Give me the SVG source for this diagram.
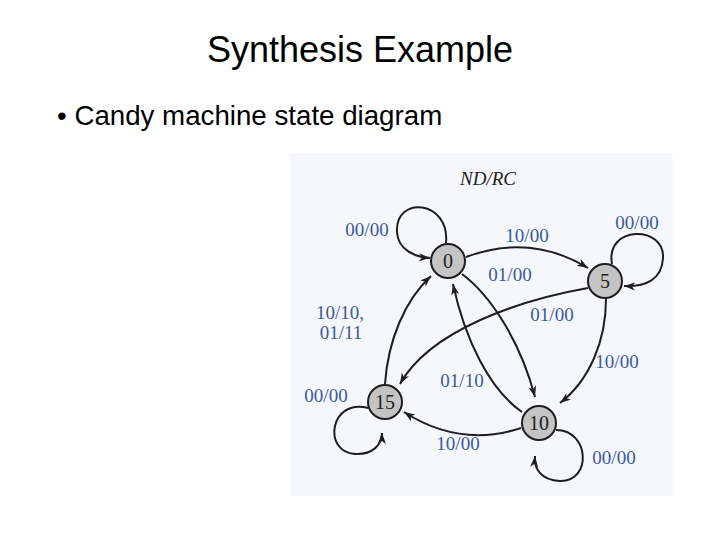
<svg xmlns="http://www.w3.org/2000/svg" width="720" height="540" viewBox="0 0 720 540">
  <style>
    .title { font-family: "Liberation Sans", Arial, sans-serif; fill: #000; }
    .lbl { font-family: "Liberation Serif", "Times New Roman", serif; font-size: 19px; fill: #3b5a9e; text-anchor: middle; }
    .state { fill: #c4c4c4; stroke: #1e1e1e; stroke-width: 2; }
    .stxt { font-family: "Liberation Serif", "Times New Roman", serif; font-size: 20px; fill: #1e1e1e; text-anchor: middle; }
    .edge { fill: none; stroke: #1e1e1e; stroke-width: 2; marker-end: url(#arr); }
  </style>
  <defs>
    <marker id="arr" markerUnits="userSpaceOnUse" markerWidth="12" markerHeight="9" refX="11" refY="4" orient="auto">
      <path d="M0,0 L11,4 L0,8 L3,4 z" fill="#1e1e1e"/>
    </marker>
  </defs>
  <rect width="720" height="540" fill="#ffffff"/>
  <rect x="290" y="153" width="383" height="343" fill="#f6f7fa"/>
  <text class="title" x="360" y="62" font-size="36" text-anchor="middle">Synthesis Example</text>
  <text class="title" x="57" y="125" font-size="27.7">• Candy machine state diagram</text>

  <text x="488" y="185" font-family="Liberation Serif, serif" font-style="italic" font-size="19" fill="#1e1e1e" text-anchor="middle">ND/RC</text>

  <g id="connectors">
    <path class="edge" d="M446 243 C450 200, 395 195, 397 232 C398 250, 415 257, 430 258"/>
    <path class="edge" d="M466 257 Q530 233 588 268"/>
    <path class="edge" d="M612 264 C605 225, 665 225, 663 258 C662 280, 645 287, 624 286"/>
    <path class="edge" d="M606 299 C606 340, 590 380, 560 403"/>
    <path class="edge" d="M588 288 C520 300, 430 330, 400 384"/>
    <path class="edge" d="M462 274 C490 295, 520 340, 535 397"/>
    <path class="edge" d="M522 412 C490 390, 465 340, 453 284"/>
    <path class="edge" d="M385 384 C388 340, 405 300, 431 276"/>
    <path class="edge" d="M521 428 Q460 448 404 412"/>
    <path class="edge" d="M368 408 C330 398, 322 452, 355 454 C372 455, 382 445, 382 433"/>
    <path class="edge" d="M556 430 C590 430, 592 482, 560 481 C540 480, 534 468, 535 456"/>
  </g>

  <g id="labels">
    <text class="lbl" x="367" y="236">00/00</text>
    <text class="lbl" x="527" y="242">10/00</text>
    <text class="lbl" x="637" y="229">00/00</text>
    <text class="lbl" x="510" y="281">01/00</text>
    <text class="lbl" x="552" y="321">01/00</text>
    <text class="lbl" x="340" y="319" text-anchor="start">10/10,</text>
    <text class="lbl" x="341" y="339" text-anchor="start">01/11</text>
    <text class="lbl" x="617" y="368">10/00</text>
    <text class="lbl" x="462" y="387">01/10</text>
    <text class="lbl" x="326" y="402">00/00</text>
    <text class="lbl" x="458" y="450">10/00</text>
    <text class="lbl" x="614" y="464">00/00</text>
  </g>

  <g id="node-0">
    <circle class="state" cx="448" cy="261" r="17"/>
    <text class="stxt" x="448" y="268">0</text>
  </g>
  <g id="node-5">
    <circle class="state" cx="605" cy="281" r="17"/>
    <text class="stxt" x="605" y="288">5</text>
  </g>
  <g id="node-15">
    <circle class="state" cx="385" cy="402" r="17"/>
    <text class="stxt" x="385" y="409">15</text>
  </g>
  <g id="node-10">
    <circle class="state" cx="539" cy="423" r="17"/>
    <text class="stxt" x="539" y="430">10</text>
  </g>
</svg>
